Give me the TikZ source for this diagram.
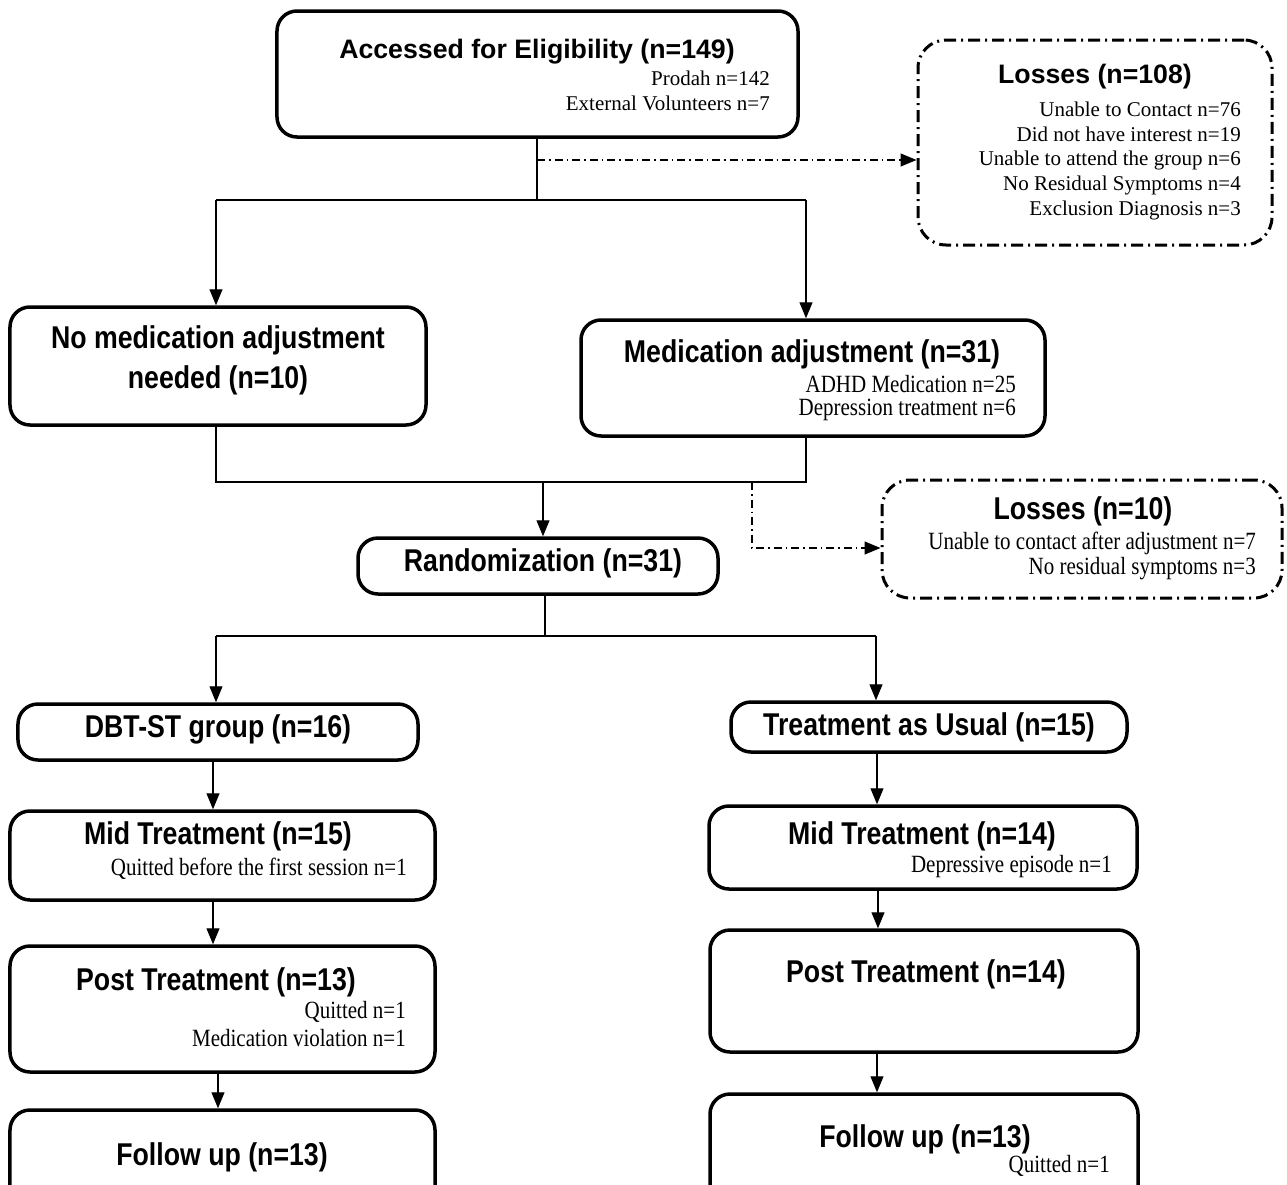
\documentclass[tikz,border=0pt]{standalone}
\usepackage{fontspec}
\usepackage{graphicx}
\setmainfont{Liberation Serif}
\newfontfamily\hv{Liberation Sans}
\usetikzlibrary{arrows.meta}
\newcommand\st[1]{\scalebox{1}[1.18]{#1}}
\begin{document}
\begin{tikzpicture}[x=1bp,y=-1bp,
  box/.style={draw, line width=3.5bp, rounded corners=20bp, inner sep=0pt},
  lossbox/.style={draw, line width=3bp, rounded corners=28bp, inner sep=0pt,
    dash pattern=on 12bp off 5bp on 2bp off 5bp},
  ttl/.style={font=\hv\bfseries\fontsize{26.7bp}{32bp}\selectfont, inner sep=0pt},
  sub/.style={font=\fontsize{21bp}{25bp}\selectfont, inner sep=0pt, anchor=east},
  conn/.style={line width=1.2bp},
  arr/.style={conn, -{Triangle[length=16bp,width=13bp]}},
  dd/.style={conn, dash pattern=on 8bp off 4bp on 1.5bp off 4bp, -{Triangle[length=16bp,width=13bp]}}]
\useasboundingbox (0,0) rectangle (1287,1185);
\fill[white] (0,0) rectangle (1287,1185);
\clip (0,0) rectangle (1287,1185);

% boxes
\node[box, minimum width=521bp, minimum height=126bp] (A) at (537.5,74) {};
\node[lossbox, minimum width=354bp, minimum height=205bp] (L1) at (1095,142.5) {};
\node[box, minimum width=416bp, minimum height=118bp] (B) at (218,366) {};
\node[box, minimum width=464bp, minimum height=116bp] (C) at (813,378) {};
\node[box, minimum width=360bp, minimum height=56bp] (R) at (538,566) {};
\node[lossbox, minimum width=400bp, minimum height=118bp] (L2) at (1082,539) {};
\node[box, minimum width=400bp, minimum height=56bp] (D) at (218,732) {};
\node[box, minimum width=396bp, minimum height=50bp] (T) at (929,727) {};
\node[box, minimum width=425bp, minimum height=89bp] (ML) at (222.5,855.5) {};
\node[box, minimum width=428bp, minimum height=83bp] (MR) at (923,847.5) {};
\node[box, minimum width=425bp, minimum height=126bp] (PL) at (222.5,1009) {};
\node[box, minimum width=428bp, minimum height=122bp] (PR) at (924,991) {};
\node[box, minimum width=425bp, minimum height=100bp] (FL) at (222.5,1160) {};
\node[box, minimum width=428bp, minimum height=116bp] (FR) at (924,1152) {};

% texts
\node[ttl] (tA) at (537,52) {Accessed for Eligibility (n=149)};
\node[sub] (sA1) at (770,78) {Prodah n=142};
\node[sub] (sA2) at (770,103) {External Volunteers n=7};

\node[ttl] (tL1) at (1095,77) {Losses (n=108)};
\node[sub] (sL11) at (1241,109) {Unable to Contact n=76};
\node[sub] (sL12) at (1241,134.5) {Did not have interest n=19};
\node[sub] (sL13) at (1241,160) {Unable to attend the group n=6};
\node[sub] (sL14) at (1241,185) {No Residual Symptoms n=4};
\node[sub] (sL15) at (1241,210) {Exclusion Diagnosis n=3};

\node[ttl] (tB1) at (218,340) {\st{No medication adjustment}};
\node[ttl] (tB2) at (218,380) {\st{needed (n=10)}};

\node[ttl] (tC) at (812,354) {\st{Medication adjustment (n=31)}};
\node[sub] (sC1) at (1016,384) {\st{ADHD Medication n=25}};
\node[sub] (sC2) at (1016,410) {\st{Depression treatment n=6}};

\node[ttl] (tR) at (543,563) {\st{Randomization (n=31)}};

\node[ttl] (tL2) at (1083,511) {\st{Losses (n=10)}};
\node[sub] (sL21) at (1256,543) {\st{Unable to contact after adjustment n=7}};
\node[sub] (sL22) at (1256,569) {\st{No residual symptoms n=3}};

\node[ttl] (tD) at (218,729) {\st{DBT-ST group (n=16)}};
\node[ttl] (tT) at (929,727) {\st{Treatment as Usual (n=15)}};

\node[ttl] (tML) at (218,836) {\st{Mid Treatment (n=15)}};
\node[sub] (sML) at (407,869) {\st{Quitted before the first session n=1}};
\node[ttl] (tMR) at (922,836) {\st{Mid Treatment (n=14)}};
\node[sub] (sMR) at (1112,867) {\st{Depressive episode n=1}};

\node[ttl] (tPL) at (216,982) {\st{Post Treatment (n=13)}};
\node[sub] (sPL1) at (406,1012) {\st{Quitted n=1}};
\node[sub] (sPL2) at (406,1038) {\st{Medication violation n=1}};
\node[ttl] (tPR) at (926,974) {\st{Post Treatment (n=14)}};

\node[ttl] (tFL) at (222,1157) {\st{Follow up (n=13)}};
\node[ttl] (tFR) at (925,1139) {\st{Follow up (n=13)}};
\node[sub] (sFR) at (1110,1166) {\st{Quitted n=1}};

% junction coordinates
\coordinate (j0) at (537,200);
\coordinate (j1) at (216,200);
\coordinate (j2) at (806,200);
\coordinate (d1) at (537,160);
\coordinate (k1) at (216,482);
\coordinate (k2) at (806,482);
\coordinate (k0) at (543,482);
\coordinate (kd) at (752,482);
\coordinate (kd2) at (752,548);
\coordinate (m0) at (545,636);
\coordinate (m1) at (216,636);
\coordinate (m2) at (876,636);
\coordinate (xa) at (213,0);
\coordinate (xb) at (218,0);
\coordinate (xc) at (877,0);
\coordinate (xd) at (878,0);

% connectors
\draw[conn] (A.south -| j0) -- (j0);
\draw[conn] (j1) -- (j2);
\draw[arr] (j1) -- (j1 |- B.north);
\draw[arr] (j2) -- (j2 |- C.north);
\draw[dd] (d1) -- (d1 -| L1.west);

\draw[conn] (k1 |- B.south) -- (k1) -- (k2) -- (k2 |- C.south);
\draw[arr] (k0) -- (k0 |- R.north);
\draw[dd] (kd) -- (kd2) -- (kd2 -| L2.west);

\draw[conn] (m0 |- R.south) -- (m0);
\draw[conn] (m1) -- (m2);
\draw[arr] (m1) -- (m1 |- D.north);
\draw[arr] (m2) -- (m2 |- T.north);

\draw[arr] (xa |- D.south) -- (xa |- ML.north);
\draw[arr] (xa |- ML.south) -- (xa |- PL.north);
\draw[arr] (xb |- PL.south) -- (xb |- FL.north);
\draw[arr] (xc |- T.south) -- (xc |- MR.north);
\draw[arr] (xd |- MR.south) -- (xd |- PR.north);
\draw[arr] (xc |- PR.south) -- (xc |- FR.north);
\end{tikzpicture}
\end{document}
